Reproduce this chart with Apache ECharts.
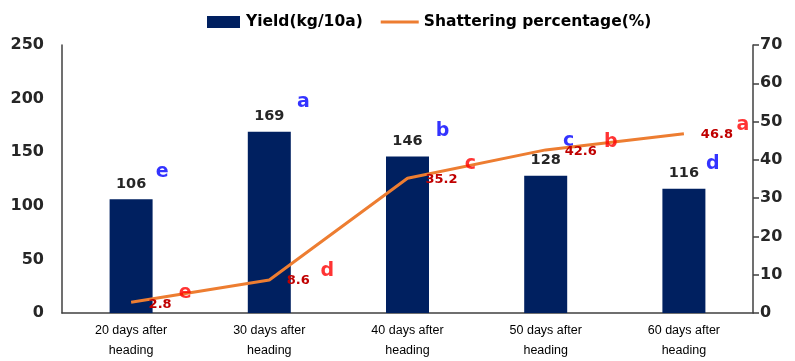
<!DOCTYPE html>
<html>
<head>
<meta charset="utf-8">
<script src="https://cdn.jsdelivr.net/npm/echarts@6/dist/echarts.min.js"></script>
<style>
  html, body { margin: 0; padding: 0; background: #fff; }
  #chart { width: 795px; height: 361px; }
</style>
</head>
<body>
<div id="chart"></div>
<script>
// Harvest timing vs. yield and shattering
const categories = ['20 days after\nheading', '30 days after\nheading', '40 days after\nheading', '50 days after\nheading', '60 days after\nheading'];
const yieldValues = [106, 169, 146, 128, 116];
const shatterValues = [2.8, 8.6, 35.2, 42.6, 46.8];
const yieldLetters = ['e', 'a', 'b', 'c', 'd'];
const shatterLetters = ['e', 'd', 'c', 'b', 'a'];
const leftTicks = { min: 0, max: 250, interval: 50 };
const rightTicks = { min: 0, max: 70, interval: 10 };

// per-point label offsets for the significance letters and values
const yieldLetterOffsets = [[31, -10], [34, -12], [35, -8], [23, -17], [29, -7]];
const shatterLetterOffsets = [[54, 0], [58, 0], [63, -5], [65, 2], [59, 1]];
const shatterValueOffsets = [[29, 2], [29, 1], [34, 1], [35, 2], [33, 1]];

const FONT = 'DejaVu Sans';
const axisColor = '#404040';

// icons: tiny corner specks fix the icon box so the bar stays as drawn
const barIcon = 'path://M0,0 L0.01,0 L0,0.01 Z M3,0 L36,0 L36,12 L3,12 Z';
const lineIcon = 'path://M0,0 L0.01,0 L0,0.01 Z M0,4.5 L40,4.5 L40,7.5 L0,7.5 Z M40,12 L39.99,12 L40,11.99 Z';

const chart = echarts.init(document.getElementById('chart'));

chart.setOption({
  animation: false,
  grid: { left: 62, right: 42, top: 45, bottom: 48 },
  legend: {
    top: 9,
    left: 199,
    itemGap: 18,
    itemWidth: 38,
    itemHeight: 12,
    data: [
      { name: 'Yield(kg/10a)', icon: barIcon, itemStyle: { color: '#002060' } },
      { name: 'Shattering percentage(%)', icon: lineIcon, itemStyle: { color: '#ED7D31' } }
    ],
    textStyle: { fontFamily: FONT, fontWeight: 'bold', fontSize: 15.5, color: '#000' }
  },
  xAxis: {
    type: 'category',
    data: categories,
    axisLine: { lineStyle: { color: axisColor, width: 1.5 } },
    axisTick: { show: false },
    axisLabel: { fontFamily: 'Liberation Sans', fontSize: 12.5, color: '#000', lineHeight: 20, margin: 8 }
  },
  yAxis: [
    {
      type: 'value',
      min: leftTicks.min, max: leftTicks.max, interval: leftTicks.interval,
      axisLine: { show: true, lineStyle: { color: axisColor, width: 1.5 } },
      axisTick: { show: false },
      splitLine: { show: false },
      axisLabel: { fontFamily: FONT, fontWeight: 'bold', fontSize: 16, color: '#262626', margin: 18 }
    },
    {
      type: 'value',
      min: rightTicks.min, max: rightTicks.max, interval: rightTicks.interval,
      axisLine: { show: true, lineStyle: { color: axisColor, width: 1.5 } },
      axisTick: { show: true, inside: false, length: 6, lineStyle: { color: axisColor, width: 1.5 } },
      splitLine: { show: false },
      axisLabel: { fontFamily: FONT, fontWeight: 'bold', fontSize: 16, color: '#262626', margin: 7 }
    }
  ],
  series: [
    {
      name: 'Yield(kg/10a)',
      type: 'bar',
      yAxisIndex: 0,
      barWidth: 43,
      data: yieldValues,
      itemStyle: { color: '#002060' },
      label: {
        show: true, position: 'top', distance: 8,
        fontFamily: FONT, fontWeight: 'bold', fontSize: 14.5, color: '#262626'
      },
      z: 2
    },
    {
      name: 'yieldLetters',
      type: 'scatter',
      yAxisIndex: 0,
      symbolSize: 0,
      silent: true,
      data: yieldValues.map((v, i) => ({
        value: v,
        label: { offset: yieldLetterOffsets[i] }
      })),
      label: {
        show: true, position: 'top', distance: 8,
        formatter: p => yieldLetters[p.dataIndex],
        fontFamily: FONT, fontWeight: 'bold', fontSize: 19, color: '#0000ff'
      },
      z: 3
    },
    {
      name: 'Shattering percentage(%)',
      type: 'line',
      yAxisIndex: 1,
      data: shatterValues.map((v, i) => ({
        value: v,
        label: { offset: shatterValueOffsets[i] }
      })),
      symbol: 'circle',
      symbolSize: 0,
      showSymbol: true,
      itemStyle: { color: '#ED7D31' },
      lineStyle: { color: '#ED7D31', width: 3 },
      label: {
        show: true, position: 'inside',
        fontFamily: FONT, fontWeight: 'bold', fontSize: 13, color: '#C00000'
      },
      z: 4
    },
    {
      name: 'shatterLetters',
      type: 'scatter',
      yAxisIndex: 1,
      symbolSize: 0,
      silent: true,
      data: shatterValues.map((v, i) => ({
        value: v,
        label: { offset: shatterLetterOffsets[i] }
      })),
      label: {
        show: true, position: 'top', distance: 0,
        formatter: p => shatterLetters[p.dataIndex],
        fontFamily: FONT, fontWeight: 'bold', fontSize: 19, color: '#ff0000'
      },
      z: 5
    }
  ]
});
</script>
</body>
</html>
